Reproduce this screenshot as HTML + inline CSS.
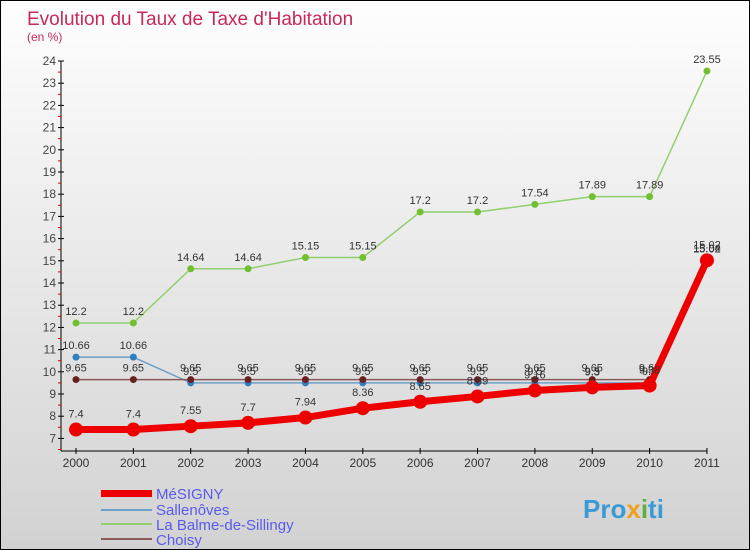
<!DOCTYPE html>
<html><head><meta charset="utf-8"><style>
body{margin:0}
#c{width:750px;height:550px;position:relative;background:linear-gradient(#fefefe,#d2d2d2);font-family:"Liberation Sans",sans-serif;border:1px solid #000;box-sizing:border-box;overflow:hidden}
</style></head><body>
<div id="c">
<svg id="s" width="750" height="550" style="position:absolute;left:0;top:0" font-family="Liberation Sans, sans-serif">
<text x="26" y="24" font-size="19" fill="#c8285a">Evolution du Taux de Taxe d'Habitation</text>
<text x="26" y="40" font-size="12" fill="#c8285a">(en %)</text>
<g id="axes"></g><g id="series"></g>
<g>
<rect x="100" y="489" width="51" height="7" fill="#e00"/>
<text x="155" y="498" font-size="15" fill="#5a5aee">MéSIGNY</text>
<rect x="100" y="508" width="51" height="2" fill="#6fa0c8"/>
<text x="155" y="514" font-size="15" fill="#5a5aee">Sallenôves</text>
<rect x="100" y="522" width="51" height="2" fill="#90d070"/>
<text x="155" y="529" font-size="15" fill="#5a5aee">La Balme-de-Sillingy</text>
<rect x="100" y="537" width="51" height="2" fill="#8a5a5a"/>
<text x="155" y="544" font-size="15" fill="#5a5aee">Choisy</text>
</g>
<text x="582" y="517" font-size="26" font-weight="bold" fill="#3a9ad8">Pro<tspan fill="#f0a020">x</tspan><tspan fill="#60b040">i</tspan>ti</text>
</svg>
</div>
<script>
const years=[2000,2001,2002,2003,2004,2005,2006,2007,2008,2009,2010,2011];
const yTicks=[7,8,9,10,11,12,13,14,15,16,17,18,19,20,21,22,23,24];
const mesigny=[7.4,7.4,7.55,7.7,7.94,8.36,8.65,8.89,9.16,9.3,9.38,15.02];
const sallenoves=[10.66,10.66,9.5,9.5,9.5,9.5,9.5,9.5,9.5,9.5,9.5,15.04];
const balme=[12.2,12.2,14.64,14.64,15.15,15.15,17.2,17.2,17.54,17.89,17.89,23.55];
const choisy=[9.65,9.65,9.65,9.65,9.65,9.65,9.65,9.65,9.65,9.65,9.65,15.02];
const NS="http://www.w3.org/2000/svg";
const X=i=>75+i*57.36, Y=v=>60+(24-v)*22.2;
function mk(t,a,p){const e=document.createElementNS(NS,t);for(const k in a)e.setAttribute(k,a[k]);p.appendChild(e);return e;}
const ax=document.getElementById('axes');
let l=mk('line',{x1:60,y1:Y(24),x2:60,y2:450,stroke:'#000'},ax);

l=mk('line',{x1:60,y1:450,x2:706,y2:450,stroke:'#000'},ax);

yTicks.forEach(v=>{mk('line',{x1:57,x2:63,y1:Y(v),y2:Y(v),stroke:'#000'},ax);
mk('line',{x1:57,x2:60,y1:Y(v-0.5),y2:Y(v-0.5),stroke:'#d00'},ax);
const t=mk('text',{x:55,y:Y(v)+4,'font-size':12,'text-anchor':'end',fill:'#444'},ax);t.textContent=v;
});
years.forEach((y,i)=>{mk('line',{x1:X(i),x2:X(i),y1:447,y2:453,stroke:'#000'},ax);
const t=mk('text',{x:X(i),y:466,'font-size':12,'text-anchor':'middle',fill:'#333'},ax);t.textContent=y;
});
const sg=document.getElementById('series');
function draw(arr,color,w,r,name,dotc,lblDy){
const g=mk('g',{},sg);
mk('polyline',{points:arr.map((v,i)=>X(i)+','+Y(v)).join(' '),fill:'none',stroke:color,'stroke-width':w,'stroke-linejoin':'round'},g);
arr.forEach((v,i)=>{const c=mk('circle',{cx:X(i),cy:Y(v),r:r,fill:dotc},g);

const t=mk('text',{x:X(i),y:Y(v)+lblDy,'font-size':11,'text-anchor':'middle',fill:'#333'},g);t.textContent=v;
});}
draw(balme,'#90d070',1.5,3.5,'series-balme','#70c030',-8);
draw(sallenoves,'#6fa0c8',1.5,3.5,'series-sallenoves','#3080c0',-8);
draw(choisy,'#8a5a5a',1.5,3.5,'series-choisy','#6a2020',-8);
draw(mesigny,'#ee0000',7,7,'series-mesigny','#ee0000',-12);
</script>
</body></html>
